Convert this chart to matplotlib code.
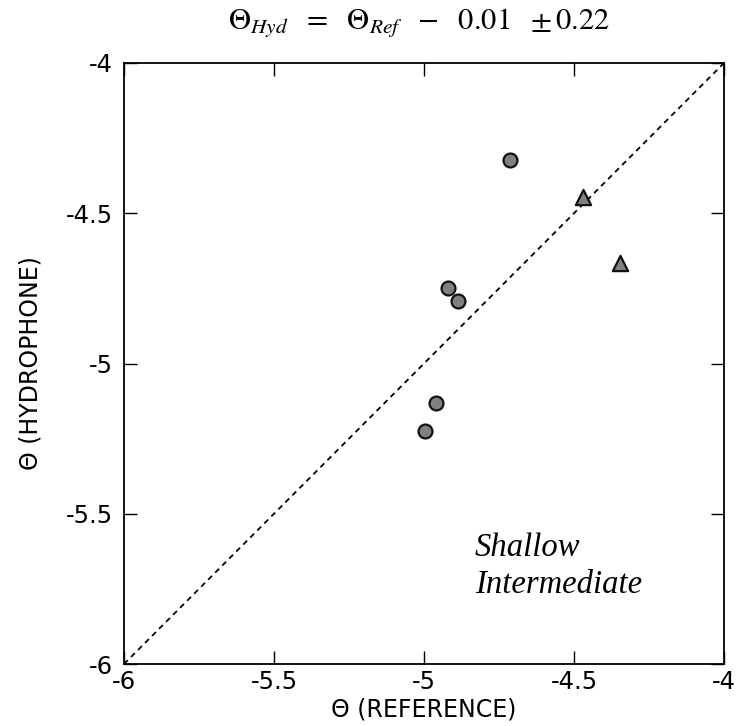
import numpy as np
import matplotlib
matplotlib.use("Agg")
import matplotlib.pyplot as plt

plt.rcParams['axes.unicode_minus'] = False
plt.rcParams['mathtext.fontset'] = 'stix'

# shallow points (circles) and intermediate points (triangles)
shallow_ref = [-4.713, -4.920, -4.887, -4.960, -4.997]
shallow_hyd = [-4.323, -4.750, -4.793, -5.133, -5.223]
inter_ref = [-4.470, -4.347]
inter_hyd = [-4.447, -4.667]

ticks = [-6, -5.5, -5, -4.5, -4]
tick_labels = ['-6', '-5.5', '-5', '-4.5', '-4']

W, H = 738, 726
fig = plt.figure(figsize=(W/100, H/100), dpi=100)
ax = fig.add_axes([124/W, (H-664)/H, 600/W, 601/H])

ax.plot([-6, -4], [-6, -4], color='k', ls='--', lw=1.3, dashes=(3, 2.5))
ax.scatter(shallow_ref, shallow_hyd, s=100, marker='o', facecolor='#808080',
           edgecolor='#111111', linewidth=1.6, zorder=3)
ax.scatter(inter_ref, inter_hyd, s=120, marker='^', facecolor='#808080',
           edgecolor='#111111', linewidth=1.6, zorder=3)

ax.set_xlim(-6, -4)
ax.set_ylim(-6, -4)
ax.set_xticks(ticks)
ax.set_xticklabels(tick_labels)
ax.set_yticks(ticks)
ax.set_yticklabels(tick_labels)
ax.tick_params(direction='in', length=9.5, width=1, top=True, right=True,
               labelsize=17.5)
ax.tick_params(axis='x', pad=4)
ax.tick_params(axis='y', pad=8)
for s in ax.spines.values():
    s.set_linewidth(1.3)

ax.set_xlabel('\u0398 (REFERENCE)', fontsize=17)
ax.xaxis.set_label_coords(0.5, (664-697)/601)
ax.set_ylabel('\u0398 (HYDROPHONE)', fontsize=17)
ax.yaxis.set_label_coords((43-124)/600, 0.5)

fig.text(228/W, 1-29/H,
         r'$\Theta_{Hyd}\ \ =\ \ \Theta_{Ref}\ \ -\ \ 0.01\ \ \pm 0.22$',
         fontsize=22, ha='left', va='baseline')

ax.text(-4.83, -5.64, 'Shallow', fontsize=23.5, style='italic',
        family='Liberation Serif', va='baseline', ha='left')
ax.text(-4.83, -5.763, 'Intermediate', fontsize=23.5, style='italic',
        family='Liberation Serif', va='baseline', ha='left')

fig.savefig('out.png', dpi=100)
